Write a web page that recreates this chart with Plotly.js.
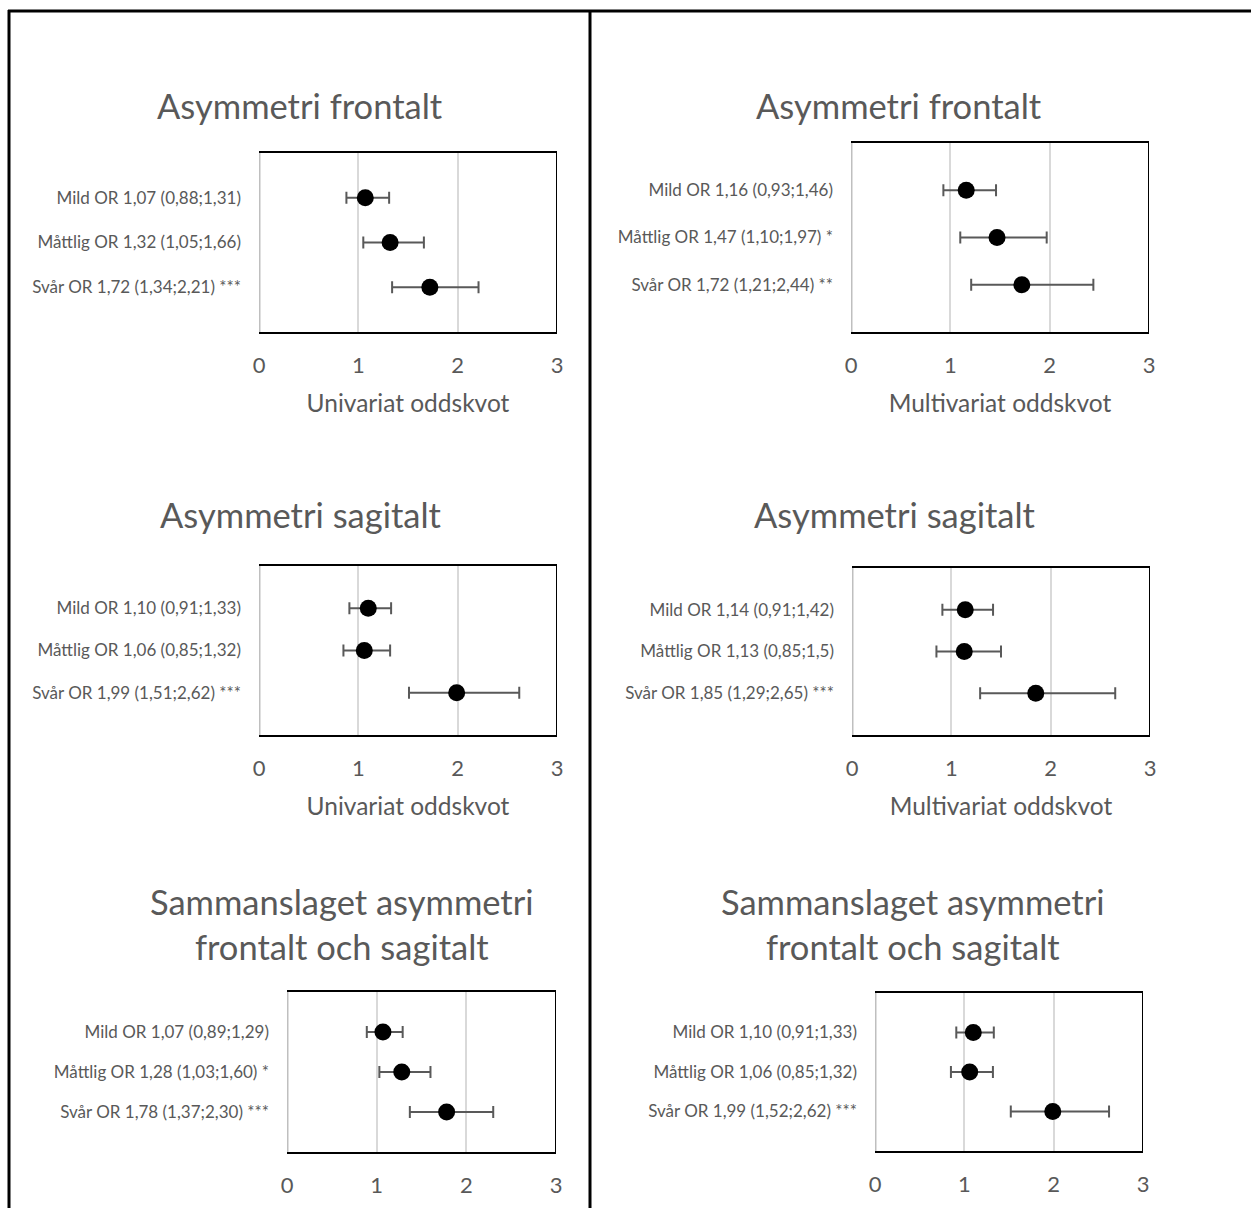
<!DOCTYPE html>
<html>
<head>
<meta charset="utf-8">
<script src="https://cdn.plot.ly/plotly-3.0.1.min.js"></script>
<style>
html,body{margin:0;padding:0;background:#fff;overflow:hidden;}
#chart{width:1251px;height:1208px;}
</style>
</head>
<body>
<div id="chart"></div>
<script>
// ---------- data ----------
const rowPos = [1, 2, 3];

const titles = [
  "Asymmetri frontalt",
  "Asymmetri frontalt",
  "Asymmetri sagitalt",
  "Asymmetri sagitalt",
  "Sammanslaget asymmetri<br>frontalt och sagitalt",
  "Sammanslaget asymmetri<br>frontalt och sagitalt"
];
const axisTitles = [
  "Univariat oddskvot",
  "Multivariat oddskvot",
  "Univariat oddskvot",
  "Multivariat oddskvot",
  "",
  ""
];

// Panel 1: univariat, frontalt
const or1 = [1.07, 1.32, 1.72];
const lo1 = [0.88, 1.05, 1.34];
const hi1 = [1.31, 1.66, 2.21];
const lab1 = ["Mild OR 1,07 (0,88;1,31)", "Måttlig OR 1,32 (1,05;1,66)", "Svår OR 1,72 (1,34;2,21) ***"];

// Panel 2: multivariat, frontalt
const or2 = [1.16, 1.47, 1.72];
const lo2 = [0.93, 1.10, 1.21];
const hi2 = [1.46, 1.97, 2.44];
const lab2 = ["Mild OR 1,16 (0,93;1,46)", "Måttlig OR 1,47 (1,10;1,97) *", "Svår OR 1,72 (1,21;2,44) **"];

// Panel 3: univariat, sagitalt
const or3 = [1.10, 1.06, 1.99];
const lo3 = [0.91, 0.85, 1.51];
const hi3 = [1.33, 1.32, 2.62];
const lab3 = ["Mild OR 1,10 (0,91;1,33)", "Måttlig OR 1,06 (0,85;1,32)", "Svår OR 1,99 (1,51;2,62) ***"];

// Panel 4: multivariat, sagitalt
const or4 = [1.14, 1.13, 1.85];
const lo4 = [0.91, 0.85, 1.29];
const hi4 = [1.42, 1.5, 2.65];
const lab4 = ["Mild OR 1,14 (0,91;1,42)", "Måttlig OR 1,13 (0,85;1,5)", "Svår OR 1,85 (1,29;2,65) ***"];

// Panel 5: univariat, sammanslaget
const or5 = [1.07, 1.28, 1.78];
const lo5 = [0.89, 1.03, 1.37];
const hi5 = [1.29, 1.60, 2.30];
const lab5 = ["Mild OR 1,07 (0,89;1,29)", "Måttlig OR 1,28 (1,03;1,60) *", "Svår OR 1,78 (1,37;2,30) ***"];

// Panel 6: multivariat, sammanslaget
const or6 = [1.10, 1.06, 1.99];
const lo6 = [0.91, 0.85, 1.52];
const hi6 = [1.33, 1.32, 2.62];
const lab6 = ["Mild OR 1,10 (0,91;1,33)", "Måttlig OR 1,06 (0,85;1,32)", "Svår OR 1,99 (1,52;2,62) ***"];

const xTickVals = [0, 1, 2, 3];
const xTickText = ["0", "1", "2", "3"];

// ---------- layout geometry (pixels) ----------
const W = 1251, H = 1208;
const boxes = [
  {x0: 259, x1: 557, y0: 153, y1: 332, tx: 300, ty: 106},
  {x0: 851, x1: 1149, y0: 143, y1: 332, tx: 899, ty: 106},
  {x0: 259, x1: 557, y0: 566, y1: 735, tx: 301, ty: 514},
  {x0: 852, x1: 1150, y0: 568, y1: 735, tx: 895, ty: 514},
  {x0: 287, x1: 556, y0: 992, y1: 1152, tx: 342, ty: 924},
  {x0: 875, x1: 1143, y0: 993, y1: 1151, tx: 913, ty: 924}
];

const panels = [
  [or1, lo1, hi1, lab1], [or2, lo2, hi2, lab2], [or3, lo3, hi3, lab3],
  [or4, lo4, hi4, lab4], [or5, lo5, hi5, lab5], [or6, lo6, hi6, lab6]
];

const FONT = "Lato, 'Open Sans', sans-serif";
const GREY = "#595959";

const px = v => v / W;
const py = v => 1 - v / H;

const traces = [];
const layout = {
  width: W, height: H,
  margin: {l: 0, r: 0, t: 0, b: 0, pad: 0},
  paper_bgcolor: "#ffffff",
  plot_bgcolor: "#ffffff",
  showlegend: false,
  font: {family: FONT, color: GREY},
  annotations: [],
  shapes: []
};

panels.forEach((p, i) => {
  const [or, lo, hi, lab] = p;
  const n = i + 1;
  const xa = n === 1 ? "x" : "x" + n;
  const ya = n === 1 ? "y" : "y" + n;
  const b = boxes[i];

  traces.push({
    type: "scatter",
    mode: "markers",
    x: or,
    y: rowPos,
    xaxis: xa, yaxis: ya,
    marker: {color: "#000000", size: 17, symbol: "circle"},
    error_x: {
      type: "data", symmetric: false,
      array: or.map((v, k) => hi[k] - v),
      arrayminus: or.map((v, k) => v - lo[k]),
      color: GREY, thickness: 2, width: 6
    },
    hoverinfo: "skip"
  });

  layout["xaxis" + (n === 1 ? "" : n)] = {
    domain: [px(b.x0), px(b.x1)],
    anchor: ya,
    range: [0, 3],
    tickvals: xTickVals,
    ticktext: xTickText,
    ticks: "",
    ticklabelstandoff: 13,
    tickfont: {family: FONT, size: 22, color: GREY},
    showgrid: true,
    gridcolor: "#d9d9d9",
    gridwidth: 2,
    zeroline: false,
    showline: true,
    linecolor: "#000000",
    linewidth: 2,
    mirror: true,
    fixedrange: true,
    automargin: false,
    title: axisTitles[i] ? {text: axisTitles[i], font: {family: FONT, size: 24.5, color: GREY}, standoff: 17} : {text: ""}
  };
  layout["yaxis" + (n === 1 ? "" : n)] = {
    domain: [py(b.y1), py(b.y0)],
    anchor: xa,
    range: [4, 0],
    tickvals: rowPos,
    ticktext: lab,
    ticks: "",
    ticklabelstandoff: 17,
    tickfont: {family: FONT, size: 17, color: GREY},
    showgrid: false,
    zeroline: false,
    showline: false,
    fixedrange: true,
    automargin: false
  };

  // gray left axis line at x = 0 and black right border
  layout.shapes.push({
    type: "line", xref: xa, yref: ya + " domain",
    x0: 0, x1: 0, y0: 0, y1: 1,
    line: {color: "#bfbfbf", width: 3}, layer: "above"
  });
  layout.shapes.push({
    type: "line", xref: xa, yref: ya + " domain",
    x0: 3, x1: 3, y0: 0, y1: 1,
    line: {color: "#000000", width: 2}, layer: "above"
  });

  layout.annotations.push({
    text: titles[i],
    xref: "paper", yref: "paper",
    x: px(b.tx), y: py(b.ty),
    xanchor: "center", yanchor: "middle",
    showarrow: false,
    font: {family: FONT, size: 34.5, color: GREY}
  });
});

// outer frame
layout.shapes.push({type: "line", xref: "paper", yref: "paper", x0: px(8), x1: 1, y0: py(11), y1: py(11), line: {color: "#000", width: 3}});
layout.shapes.push({type: "line", xref: "paper", yref: "paper", x0: px(9), x1: px(9), y0: py(10), y1: 0, line: {color: "#000", width: 3}});
layout.shapes.push({type: "line", xref: "paper", yref: "paper", x0: px(590), x1: px(590), y0: py(10), y1: 0, line: {color: "#000", width: 3}});

Plotly.newPlot("chart", traces, layout, {displayModeBar: false, staticPlot: true});
</script>
</body>
</html>
